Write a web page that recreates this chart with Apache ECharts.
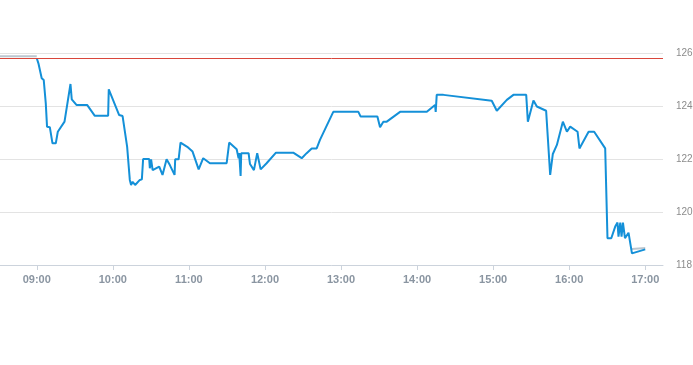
<!DOCTYPE html>
<html>
<head>
<meta charset="utf-8">
<script src="https://cdn.jsdelivr.net/npm/echarts@6/dist/echarts.min.js"></script>
<style>
html,body{margin:0;padding:0;background:#fff;}
#chart{width:693px;height:365px;}
</style>
</head>
<body>
<div id="chart"></div>
<script>
// Intraday price series (times HH:MM:SS, price values)
var times = ["09:00:00","09:01:18","09:03:54","09:05:30","09:07:06","09:08:06","09:10:18","09:12:24","09:15:00","09:16:36",
"09:21:54","09:26:36","09:27:36","09:31:18","09:39:42","09:45:48","09:56:18","09:56:48","10:05:00","10:07:42",
"10:11:18","10:13:24","10:14:24","10:15:36","10:17:36","10:21:18","10:22:54","10:23:54","10:28:42","10:29:12",
"10:30:12","10:31:24","10:36:36","10:39:12","10:42:24","10:45:00","10:48:42","10:49:12","10:51:54","10:53:24",
"10:58:42","11:02:54","11:07:42","11:11:18","11:16:36","11:29:48","11:31:48","11:37:42","11:39:12","11:39:42",
"11:40:48","11:41:18","11:47:06","11:48:12","11:49:42","11:51:18","11:53:54","11:56:36","12:01:18","12:08:42",
"12:22:18","12:29:00","12:32:54","12:36:54","12:40:48","12:43:24","12:53:54","13:13:42","13:15:30","13:28:42",
"13:30:48","13:33:24","13:36:06","13:46:36","14:07:42","14:14:12","14:14:42","14:15:30","14:20:48","14:58:54",
"15:02:54","15:10:48","15:16:00","15:26:06","15:27:24","15:31:48","15:34:30","15:41:48","15:45:00","15:47:06",
"15:50:18","15:55:00","15:58:12","16:00:48","16:06:36","16:08:06","16:15:18","16:19:42","16:28:24","16:30:12",
"16:33:12","16:36:18","16:38:06","16:38:54","16:40:18","16:41:18","16:42:24","16:44:00","16:46:48","16:48:12",
"16:49:30","17:00:00"];
var prices = [125.80,125.61,125.05,124.98,124.11,123.22,123.20,122.59,122.59,123.03,
123.41,124.83,124.25,124.04,124.04,123.63,123.63,124.63,123.66,123.62,
122.46,121.21,121.02,121.14,121.02,121.21,121.23,122.00,122.00,121.65,
121.99,121.58,121.71,121.40,121.99,121.77,121.40,121.99,121.99,122.62,
122.46,122.28,121.61,122.03,121.84,121.84,122.62,122.37,122.03,122.22,
121.36,122.22,122.22,121.81,121.81,121.58,122.22,121.61,121.84,122.24,
122.24,122.03,122.22,122.40,122.40,122.72,123.78,123.78,123.60,123.60,
123.20,123.41,123.41,123.78,123.78,124.04,123.78,124.42,124.42,124.20,
123.82,124.23,124.42,124.42,123.41,124.21,123.98,123.82,121.40,122.19,
122.53,123.41,123.03,123.22,123.03,122.40,123.03,123.03,122.40,119.01,
119.01,119.45,119.60,119.07,119.60,119.07,119.60,119.01,119.22,119.22,
118.44,118.59];
// Pre-market and after-hours (grey) segments
var preTimes = ["08:31:00","09:00:00"];
var preValues = [125.88,125.88];
var postTimes = ["16:49:30","17:00:00"];
var postValues = [118.60,118.64];
var prevClose = 125.81;
var axisMinTime = "08:31:00", axisMaxTime = "17:14:00";
var yMin = 118, yMax = 126, yStep = 2;

function ts(s){
  var p = s.split(":").map(Number);
  return new Date(2024,0,2,p[0],p[1],p[2]||0).getTime();
}
function pairs(t,v){ return t.map(function(x,i){ return [ts(x), v[i]]; }); }

var chart = echarts.init(document.getElementById('chart'), null, {renderer:'canvas'});
chart.setOption({
  animation:false,
  grid:{left:0,right:30,top:53,bottom:100,containLabel:false,outerBoundsMode:'none'},
  xAxis:{
    type:'time',
    min:ts(axisMinTime), max:ts(axisMaxTime),
    minInterval:3600000, maxInterval:3600000,
    axisLine:{lineStyle:{color:'#ccd3dc'}},
    axisTick:{show:true,length:5,lineStyle:{color:'#ccd3dc'}},
    splitLine:{show:false},
    axisLabel:{
      formatter:function(v){var d=new Date(v);return ('0'+d.getHours()).slice(-2)+':'+('0'+d.getMinutes()).slice(-2);},
      color:'#8a95a1',fontSize:11,fontWeight:'bold',fontFamily:'Liberation Sans, Arial, sans-serif',margin:9,
      showMinLabel:false,showMaxLabel:false
    }
  },
  yAxis:{
    type:'value',position:'right',min:yMin,max:yMax,interval:yStep,
    axisLine:{show:false},axisTick:{show:false},
    splitLine:{lineStyle:{color:'#e3e3e3'}},
    axisLabel:{color:'#8c8c8c',fontSize:10,margin:13,fontFamily:'Liberation Sans, Arial, sans-serif'}
  },
  series:[
    {type:'line',data:pairs(preTimes,preValues),symbol:'none',lineStyle:{color:'#bcc6cf',width:2},z:2},
    {type:'line',data:pairs(postTimes,postValues),symbol:'none',lineStyle:{color:'#bcc6cf',width:2},z:2},
    {type:'line',data:pairs(times,prices),symbol:'none',lineStyle:{color:'#1490d8',width:2},z:3,
     markLine:{silent:true,symbol:['none','none'],label:{show:false},
       lineStyle:{color:'#d9463b',width:1,type:'solid'},data:[{yAxis:prevClose}]}}
  ]
});
</script>
</body>
</html>
